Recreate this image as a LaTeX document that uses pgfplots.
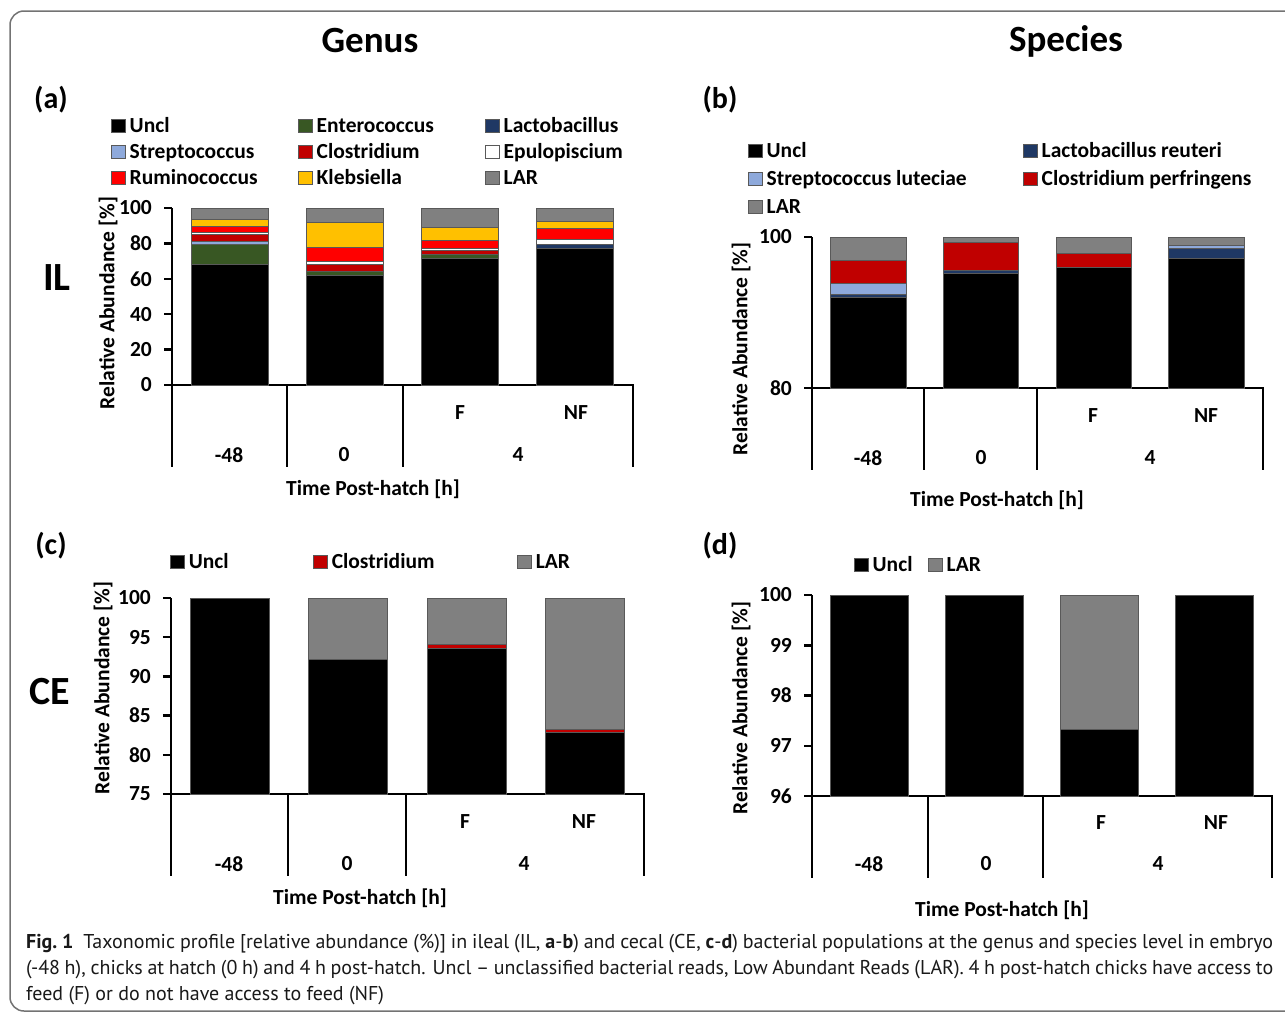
\documentclass[border=0pt]{standalone}
\usepackage{fontspec}
\setmainfont{Carlito}
\newfontfamily\capfont{PT Sans}
\usepackage{pgfplots}
\pgfplotsset{compat=1.18}
\definecolor{cGreen}{HTML}{385723}
\definecolor{cNavy}{HTML}{1F3864}
\definecolor{cLBlue}{HTML}{8EA9DB}
\definecolor{cDRed}{HTML}{C00000}
\definecolor{cRed}{HTML}{FF0000}
\definecolor{cYel}{HTML}{FFC000}
\definecolor{cGray}{HTML}{808080}
\newcommand\cf{\fontsize{21.5}{25}\selectfont\bfseries}
\pgfplotsset{panel/.style={
  scale only axis, axis lines=left, axis line style={-, line width=2.5pt, black},
  xmin=-0.5, xmax=3.5, xtick=\empty, ybar stacked, bar width=0.67,
  tick align=outside, major tick length=8pt, ytick style={line width=2.5pt, black},
  /pgf/number format/assume math mode=true,
  yticklabel style={font=\cf, anchor=east, inner sep=0pt, xshift=-12pt},
  every axis plot/.append style={draw=black!65, line width=1pt},
  legend style={draw=none, fill=none, inner sep=0pt, font=\cf,
    nodes={inner sep=0pt, text height=16pt, text depth=5pt, anchor=base west},
    /tikz/column sep=0pt},
  legend cell align=left,
  legend image code/.code={\draw[##1, line width=1pt] (0pt,-0.5pt) rectangle (13.5pt,13pt);},
}}
\tikzset{lab/.style={font=\cf, inner sep=0pt}}
\begin{document}
\begin{tikzpicture}
\useasboundingbox (0pt,0pt) rectangle (1285pt,-1012pt);
\draw[black!55, line width=1.5pt, rounded corners=14pt] (1330pt,-11pt) -- (10pt,-11pt) -- (10pt,-1011pt) -- (1330pt,-1011pt);

% titles
\node[font=\fontsize{37}{42}\selectfont\bfseries, inner sep=0pt] at (370pt,-41pt) {Genus};
\node[font=\fontsize{37}{42}\selectfont\bfseries, inner sep=0pt] at (1066pt,-41pt) {Species};
\node[font=\fontsize{30}{34}\selectfont\bfseries, inner sep=0pt] at (51pt,-100pt) {(a)};
\node[font=\fontsize{30}{34}\selectfont\bfseries, inner sep=0pt] at (720pt,-100pt) {(b)};
\node[font=\fontsize{30}{34}\selectfont\bfseries, inner sep=0pt] at (51pt,-546pt) {(c)};
\node[font=\fontsize{30}{34}\selectfont\bfseries, inner sep=0pt] at (720pt,-546pt) {(d)};
\node[font=\fontsize{40}{46}\selectfont\bfseries, inner sep=0pt] at (57pt,-278pt) {IL};
\node[font=\fontsize{40}{46}\selectfont\bfseries, inner sep=0pt] at (50pt,-692pt) {CE};

% ---------------- (a) ----------------
\begin{axis}[panel, at={(172pt,-385pt)}, anchor=south west, width=461pt, height=177pt,
  ymin=0, ymax=100, ytick={0,20,...,100},
  legend columns=3, legend style={at={(-0.1323,1.5198)}, anchor=north west, row sep=5pt}]
\addplot[fill=black] coordinates {(0,67.8) (1,62.1) (2,71.6) (3,77.2)};
\addlegendentry{\makebox[172.5pt][l]{\hspace{4pt}Uncl}}
\addplot[fill=cGreen] coordinates {(0,11.3) (1,2.2) (2,1.9) (3,0)};
\addlegendentry{\makebox[172.5pt][l]{\hspace{4pt}Enterococcus}}
\addplot[fill=cNavy] coordinates {(0,0.4) (1,0) (2,0) (3,2.3)};
\addlegendentry{\hspace{4pt}Lactobacillus}
\addplot[fill=cLBlue] coordinates {(0,1.5) (1,0) (2,0) (3,0)};
\addlegendentry{\makebox[172.5pt][l]{\hspace{4pt}Streptococcus}}
\addplot[fill=cDRed] coordinates {(0,3.8) (1,3.8) (2,2.3) (3,0)};
\addlegendentry{\makebox[172.5pt][l]{\hspace{4pt}Clostridium}}
\addplot[fill=white] coordinates {(0,1.5) (1,1.5) (2,1.5) (3,2.8)};
\addlegendentry{\hspace{4pt}Epulopiscium}
\addplot[fill=cRed] coordinates {(0,3.0) (1,7.9) (2,4.5) (3,6.0)};
\addlegendentry{\makebox[172.5pt][l]{\hspace{4pt}Ruminococcus}}
\addplot[fill=cYel] coordinates {(0,4.3) (1,14.1) (2,7.2) (3,4.3)};
\addlegendentry{\makebox[172.5pt][l]{\hspace{4pt}Klebsiella}}
\addplot[fill=cGray] coordinates {(0,6.4) (1,8.4) (2,11.0) (3,7.4)};
\addlegendentry{\hspace{4pt}LAR}
\end{axis}

% ---------------- (b) ----------------
\begin{axis}[panel, at={(812pt,-388pt)}, anchor=south west, width=451pt, height=151pt,
  ymin=80, ymax=100, ytick={80,100},
  legend columns=2, legend style={at={(-0.1419,1.6358)}, anchor=north west, row sep=7pt}]
\addplot[fill=black] coordinates {(0,91.97) (1,95.2) (2,96.0) (3,97.2)};
\addlegendentry{\makebox[260.5pt][l]{\hspace{4pt}Uncl}}
\addplot[fill=cNavy] coordinates {(0,0.44) (1,0.35) (2,0) (3,1.24)};
\addlegendentry{\hspace{4pt}Lactobacillus reuteri}
\addplot[fill=cLBlue] coordinates {(0,1.46) (1,0) (2,0) (3,0.44)};
\addlegendentry{\makebox[260.5pt][l]{\hspace{4pt}Streptococcus luteciae}}
\addplot[fill=cDRed] coordinates {(0,3.0) (1,3.7) (2,1.8) (3,0)};
\addlegendentry{\hspace{4pt}Clostridium perfringens}
\addplot[fill=cGray] coordinates {(0,3.13) (1,0.75) (2,2.2) (3,1.12)};
\addlegendentry{\makebox[260.5pt][l]{\hspace{4pt}LAR}}
\end{axis}

% ---------------- (c) ----------------
\begin{axis}[panel, at={(171pt,-794pt)}, anchor=south west, width=473pt, height=196pt,
  ymin=75, ymax=100, ytick={75,80,...,100},
  legend columns=3, legend style={at={(-0.002,1.2347)}, anchor=north west}]
\addplot[fill=black] coordinates {(0,100) (1,92.1) (2,93.6) (3,82.8)};
\addlegendentry{\makebox[128.5pt][l]{\hspace{4pt}Uncl}}
\addplot[fill=cDRed] coordinates {(0,0) (1,0) (2,0.5) (3,0.43)};
\addlegendentry{\makebox[189.5pt][l]{\hspace{4pt}Clostridium}}
\addplot[fill=cGray] coordinates {(0,0) (1,7.9) (2,5.9) (3,16.77)};
\addlegendentry{\hspace{4pt}LAR}
\end{axis}

% ---------------- (d) ----------------
\begin{axis}[panel, at={(812pt,-796pt)}, anchor=south west, width=460pt, height=201pt,
  ymin=96, ymax=100, ytick={96,97,...,100},
  legend columns=2, legend style={at={(0.0913,1.199)}, anchor=north west}]
\addplot[fill=black] coordinates {(0,100) (1,100) (2,97.33) (3,100)};
\addlegendentry{\makebox[59.5pt][l]{\hspace{4pt}Uncl}}
\addplot[fill=cGray] coordinates {(0,0) (1,0) (2,2.67) (3,0)};
\addlegendentry{\hspace{4pt}LAR}
\end{axis}

% separators of the category axis
\begin{scope}[line width=2.5pt]
\foreach \x in {172,287,403,633} \draw (\x pt,-384pt) -- (\x pt,-467pt);
\foreach \x in {812,924,1037,1263} \draw (\x pt,-387pt) -- (\x pt,-470pt);
\foreach \x in {171,288,406,644} \draw (\x pt,-793pt) -- (\x pt,-876pt);
\foreach \x in {812,928,1043,1272} \draw (\x pt,-795pt) -- (\x pt,-878pt);
\end{scope}

% category labels
\node[lab] at (460pt,-413pt) {F};   \node[lab] at (576pt,-413pt) {NF};
\node[lab] at (229pt,-455pt) {-48}; \node[lab] at (344pt,-455pt) {0}; \node[lab] at (518pt,-455pt) {4};
\node[lab] at (373pt,-489pt) {Time Post-hatch [h]};
\node[lab] at (1093pt,-416pt) {F};  \node[lab] at (1206pt,-416pt) {NF};
\node[lab] at (868pt,-458pt) {-48}; \node[lab] at (981pt,-458pt) {0}; \node[lab] at (1150pt,-458pt) {4};
\node[lab] at (997pt,-500pt) {Time Post-hatch [h]};
\node[lab] at (465pt,-822pt) {F};   \node[lab] at (584pt,-822pt) {NF};
\node[lab] at (229pt,-864pt) {-48}; \node[lab] at (347pt,-864pt) {0}; \node[lab] at (524pt,-864pt) {4};
\node[lab] at (360pt,-898pt) {Time Post-hatch [h]};
\node[lab] at (1101pt,-823pt) {F};  \node[lab] at (1216pt,-823pt) {NF};
\node[lab] at (869pt,-864pt) {-48}; \node[lab] at (986pt,-864pt) {0}; \node[lab] at (1158pt,-864pt) {4};
\node[lab] at (1002pt,-910pt) {Time Post-hatch [h]};

% y labels
\node[lab, rotate=90] at (108pt,-303pt) {Relative Abundance [\%]};
\node[lab, rotate=90] at (741pt,-349pt) {Relative Abundance [\%]};
\node[lab, rotate=90] at (103pt,-688pt) {Relative Abundance [\%]};
\node[lab, rotate=90] at (741pt,-708pt) {Relative Abundance [\%]};

% caption
\node[anchor=north west, inner sep=0pt, text width=1247pt, align=justify,
  font=\capfont\fontsize{20}{26}\selectfont, text=black!90] at (26pt,-934pt)
{{\bfseries Fig.~1}\enspace Taxonomic profile [relative abundance (\%)] in ileal (IL, {\bfseries a}-{\bfseries b}) and cecal (CE, {\bfseries c}-{\bfseries d}) bacterial populations at the genus and species level in embryo\linebreak
(-48~h), chicks at hatch (0~h) and 4~h post-hatch. Uncl – unclassified bacterial reads, Low Abundant Reads (LAR). 4~h post-hatch chicks have access to\linebreak
feed (F) or do not have access to feed (NF)};
\end{tikzpicture}
\end{document}
